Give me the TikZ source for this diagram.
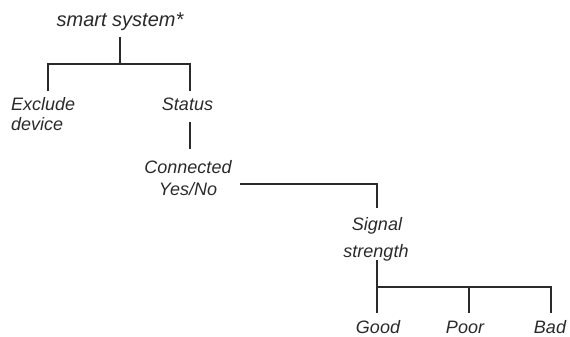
\documentclass[tikz,border=0pt]{standalone}
\usepackage{fontspec}
\setmainfont{Liberation Sans}
\definecolor{ink}{HTML}{2A2A2A}
\begin{document}
\begin{tikzpicture}[x=1pt,y=-1pt,
  lbl/.style={inner sep=0pt, anchor=base, font=\fontsize{18}{20}\selectfont\itshape, text=ink},
  ln/.style={line width=1.7pt, draw=ink}]
\useasboundingbox (0,0) rectangle (570,337);
% labels
\node[lbl, font=\fontsize{20}{22}\selectfont\itshape] (root) at (120,27) {smart system*};
\node[lbl, anchor=base west] (excl) at (11,110) {Exclude};
\node[lbl, anchor=base west] (dev) at (11,130) {device};
\node[lbl] (status) at (187.5,110) {Status};
\node[lbl] (conn) at (188,173) {Connected};
\node[lbl] (yn) at (188,195) {Yes/No};
\node[lbl] (sig) at (377,230) {Signal};
\node[lbl] (str) at (376,257) {strength};
\node[lbl] (good) at (378,333) {Good};
\node[lbl] (poor) at (465,333) {Poor};
\node[lbl] (bad) at (550,333) {Bad};
% junction coordinates
\coordinate (r0) at (120,37);
\coordinate (r1) at (120,64);
\coordinate (eL) at (48,91);
\coordinate (sT) at (190,91);
\coordinate (s0) at (190,122);
\coordinate (s1) at (190,149);
\coordinate (c0) at (240,184);
\coordinate (g0) at (377,208);
\coordinate (t0) at (377,260);
\coordinate (t1) at (377,287);
\coordinate (gd) at (377,313);
\coordinate (pr) at (469,313);
\coordinate (bd) at (551,313);
% connectors
\draw[ln] (r0) -- (r1);
\draw[ln] (eL) |- (r1) -| (sT);
\draw[ln] (s0) -- (s1);
\draw[ln] (c0) -| (g0);
\draw[ln] (t0) -- (gd);
\draw[ln] (t1) -| (bd);
\draw[ln] (pr) -- (pr |- t1);
\end{tikzpicture}
\end{document}
